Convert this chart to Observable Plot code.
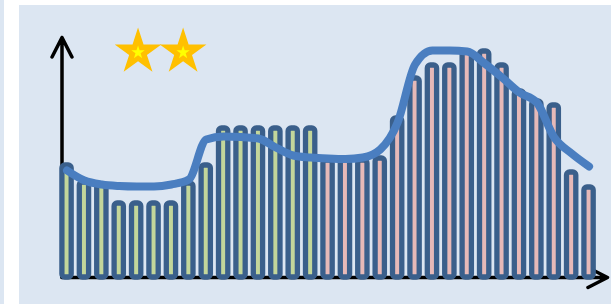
<!DOCTYPE html>
<html>
<head>
<meta charset="utf-8">
<script src="https://cdn.jsdelivr.net/npm/d3@7"></script>
<script src="https://cdn.jsdelivr.net/npm/@observablehq/plot@0.6"></script>
<style>
  html, body { margin: 0; padding: 0; background: #ffffff; width: 611px; height: 304px; overflow: hidden; }
  #strip { position: absolute; left: 0; top: 0; width: 4px; height: 304px; background: #dce6f2; }
  #chart { position: absolute; left: 19px; top: 5px; }
</style>
</head>
<body>
<div id="strip"></div>
<div id="chart"></div>
<script>
// Bar heights, first group (green) and second group (pink)
const barsA = [112, 95, 93, 74, 74, 74, 74, 94, 112, 149, 149, 149, 149, 149, 149];
const barsB = [117, 117, 117, 119, 159, 199, 212, 212, 225, 226, 212, 186, 176, 172, 105, 90];
// Smoothed trend line, one value per bar
const trend = [107, 97, 93, 91.5, 91, 91, 93, 98, 138, 141, 140.5, 139, 130, 122, 120, 119, 118.5, 120, 128, 155, 213, 227, 227, 226, 214, 200, 185, 175, 140, 124, 111];
// Star rating
const rating = 2;

const xDomain = [0.71, 32.06];
const yDomain = [0, 240];

const bars = [
  ...barsA.map((v, i) => ({i: i + 1, v, g: "A"})),
  ...barsB.map((v, i) => ({i: barsA.length + i + 1, v, g: "B"}))
];
const line = trend.map((v, i) => ({i: i + 1, v}));
const axes = [
  {x1: xDomain[0], y1: yDomain[0], x2: xDomain[1], y2: yDomain[0]},
  {x1: xDomain[0], y1: yDomain[0], x2: xDomain[0], y2: yDomain[1]}
];
const stars = d3.range(rating);
const hw = 0.267;

const chart = Plot.plot({
  width: 592,
  height: 299,
  marginLeft: 42.5,
  marginRight: 4,
  marginTop: 32,
  marginBottom: 27,
  x: {domain: xDomain, axis: null},
  y: {domain: yDomain, axis: null},
  style: {background: "#dce6f2", overflow: "visible"},
  marks: [
    Plot.arrow(axes, {
      x1: "x1", y1: "y1", x2: "x2", y2: "y2",
      stroke: "#000000", strokeWidth: 3.5,
      headLength: 9.4, headAngle: 54,
      strokeLinecap: "round", strokeLinejoin: "round"
    }),
    Plot.rectY(bars, {
      x1: d => d.i - hw, x2: d => d.i + hw,
      y1: 0, y2: "v",
      fill: d => d.g === "A" ? "#c3d69b" : "#e6b9b8",
      stroke: "#3a5f8b", strokeWidth: 5.3, rx: 3
    }),
    Plot.line(line, {
      x: "i", y: "v", curve: "monotone-x",
      stroke: "#4a7ec0", strokeWidth: 8,
      strokeLinecap: "round", strokeLinejoin: "round"
    }),
    Plot.dot(stars, {
      x: i => 5.08 + i * 2.59, y: () => 225.5,
      symbol: "star", r: 14.65, fill: "#ffc000", stroke: "none"
    }),
    Plot.dot(stars, {
      x: i => 5.08 + i * 2.59, y: () => 225,
      symbol: "star", r: 4.2, fill: "#ffff00", stroke: "none"
    })
  ]
});
document.getElementById("chart").appendChild(chart);
</script>
</body>
</html>
